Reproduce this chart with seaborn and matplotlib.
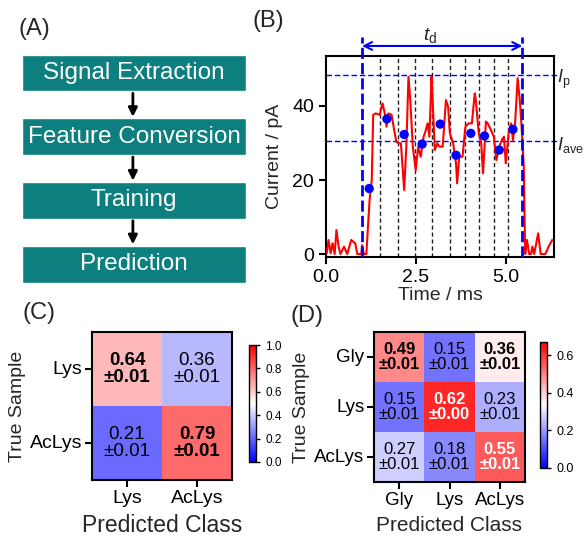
import matplotlib
matplotlib.use('Agg')
import matplotlib.pyplot as plt
import numpy as np
import pandas as pd
import seaborn as sns

# (A) workflow
steps = ['Signal Extraction', 'Feature Conversion', 'Training', 'Prediction']

# (B) current trace
time_ms = [0.02, 0.07, 0.13, 0.18, 0.24, 0.29, 0.35, 0.40, 0.50, 0.59,
           0.70, 0.81, 0.87, 0.98, 1.00, 1.05, 1.12, 1.21, 1.27, 1.31,
           1.38, 1.49, 1.57, 1.64, 1.68, 1.73, 1.82, 1.95, 2.01, 2.08,
           2.17, 2.23, 2.29, 2.34, 2.41, 2.49, 2.56, 2.63, 2.71, 2.76,
           2.82, 2.87, 2.93, 2.96, 3.02, 3.09, 3.15, 3.24, 3.33, 3.39,
           3.44, 3.53, 3.61, 3.64, 3.70, 3.79, 3.87, 3.96, 4.05, 4.13,
           4.16, 4.24, 4.31, 4.36, 4.44, 4.49, 4.58, 4.66, 4.73, 4.81,
           4.88, 4.94, 4.99, 5.08, 5.14, 5.19, 5.25, 5.32, 5.38, 5.43,
           5.49, 5.53, 5.58, 5.64, 5.69, 5.73, 5.78, 5.89, 5.96, 6.09,
           6.18, 6.28]
current_pa = [0.2, 3.8, 0.2, 2.9, 0, 6.5, 2.0, 0, 2.0, 0,
              3.8, 2.9, 0, 0, 2.4, 0, 0, 14.6, 20, 37.6,
              38, 37.6, 40.7, 37.6, 34.4, 38, 37.6, 30.4, 29.9, 29.9,
              17.3, 29, 47.9, 41.6, 29, 22.7, 29, 26.3, 31.7, 33.1,
              35.3, 31.7, 47.9, 41.6, 28.1, 29.9, 29, 29, 41.6, 39.8,
              32.6, 29.9, 24.5, 19.1, 26.3, 26.3, 34.4, 35.3, 35.3, 43.4,
              41.6, 32.6, 29.9, 21.8, 35.8, 35.3, 33.5, 31.7, 25.4, 29,
              30.8, 31.7, 24.5, 33.5, 35.3, 30.8, 35.3, 47.5, 41.6, 34.4,
              23.6, 0, 3.8, 0, 0, 2.0, 0, 5.6, 0, 0,
              2.0, 3.8]
seg_mean_t = [1.20, 1.69, 2.17, 2.67, 3.17, 3.61, 4.02, 4.40, 4.81, 5.19]
seg_mean_i = [17.7, 36.5, 32.3, 29.7, 35.1, 26.7, 32.6, 31.9, 28.1, 33.7]
seg_bounds = [1.5, 2.0, 2.47, 2.95, 3.44, 3.85, 4.24, 4.66, 5.05]
event_bounds = [1.0, 5.45]
i_peak = 48.3
i_ave = 30.5

# (C) two classes
classes_c = ['Lys', 'AcLys']
acc_c = [[0.64, 0.36],
         [0.21, 0.79]]
err_c = [[0.01, 0.01],
         [0.01, 0.01]]

# (D) three classes
classes_d = ['Gly', 'Lys', 'AcLys']
acc_d = [[0.49, 0.15, 0.36],
         [0.15, 0.62, 0.23],
         [0.27, 0.18, 0.55]]
err_d = [[0.01, 0.01, 0.01],
         [0.01, 0.00, 0.01],
         [0.01, 0.01, 0.01]]

sns.set_style('ticks')
plt.rcParams['font.family'] = ['Liberation Sans', 'DejaVu Sans']
plt.rcParams['mathtext.fontset'] = 'custom'
plt.rcParams['mathtext.rm'] = 'Liberation Sans'
plt.rcParams['mathtext.it'] = 'Liberation Sans:italic'
plt.rcParams['axes.linewidth'] = 1.5
plt.rcParams['axes.edgecolor'] = 'black'
plt.rcParams['xtick.color'] = 'black'
plt.rcParams['ytick.color'] = 'black'

W, H = 584, 540
fig = plt.figure(figsize=(W / 100, H / 100), dpi=100)


def px_axes(left, top, right, bottom):
    return fig.add_axes([left / W, 1 - bottom / H, (right - left) / W,
                         (bottom - top) / H])


teal = '#0d7f7e'

# ---------------- (A)
ax_a = px_axes(22, 54.5, 246, 282.5)
n = len(steps)
ax_a.barh(range(n), [1] * n, height=0.58, color=teal)
ax_a.set_xlim(0, 1)
ax_a.set_ylim(n - 1 + 0.29, -0.29)
ax_a.axis('off')
for i, s in enumerate(steps):
    ax_a.text(0.5, i, s, color='white', ha='center', va='center',
              fontsize=17.5)
for i in range(n - 1):
    ax_a.annotate('', xy=(0.495, i + 1 - 0.31), xytext=(0.495, i + 0.32),
                  arrowprops=dict(arrowstyle='-|>', color='black', lw=2,
                                  mutation_scale=13, shrinkA=0, shrinkB=0))

# ---------------- (B)
ax_b = px_axes(326, 56, 554, 257)
trace = pd.DataFrame({'t': time_ms, 'i': current_pa})
sns.lineplot(data=trace, x='t', y='i', color='red', lw=1.5, sort=False,
             estimator=None, ax=ax_b, zorder=3)
sns.scatterplot(x=seg_mean_t, y=seg_mean_i, color='blue', s=45,
                edgecolor='none', ax=ax_b, zorder=4)
for t in seg_bounds:
    ax_b.axvline(t, color='#222222', ls=(0, (3, 2)), lw=1, zorder=1)
for t in event_bounds:
    ax_b.axvline(t, ymin=0, ymax=1.095, color='blue', ls=(0, (4, 1.5)),
                 lw=2, clip_on=False, zorder=5)
for lvl in (i_peak, i_ave):
    ax_b.axhline(lvl, xmax=1.015, color='blue', ls=(0, (4, 2)), lw=1,
                 clip_on=False, zorder=2)
ax_b.annotate('', xy=(event_bounds[0], 1.05), xytext=(event_bounds[1], 1.05),
              xycoords=('data', 'axes fraction'),
              textcoords=('data', 'axes fraction'),
              arrowprops=dict(arrowstyle='<->', color='blue', lw=1.5,
                              mutation_scale=14, shrinkA=0, shrinkB=0))
ax_b.text(2.9, 1.1, r'$\mathit{t}_\mathrm{d}$', fontsize=14, ha='center',
          va='center', transform=ax_b.get_xaxis_transform())
ax_b.text(1.015, i_peak - 1, r'$\mathit{I}_\mathrm{p}$', fontsize=13,
          ha='left', va='center', transform=ax_b.get_yaxis_transform())
ax_b.text(1.015, i_ave - 1, r'$\mathit{I}_\mathrm{ave}$', fontsize=13,
          ha='left', va='center', transform=ax_b.get_yaxis_transform())
ax_b.set_xlim(0, 6.33)
ax_b.set_ylim(-0.8, 53.5)
ax_b.set_xticks([0, 2.5, 5.0])
ax_b.set_xticklabels(['0.0', '2.5', '5.0'])
ax_b.set_yticks([0, 20, 40])
ax_b.tick_params(labelsize=14, length=5, width=1.5, direction='out')
ax_b.set_xlabel('Time / ms', fontsize=14, labelpad=1)
ax_b.set_ylabel('Current / pA', fontsize=14, labelpad=7)


# ---------------- (C) and (D)
def conf_map(ax, cax, acc, err, classes, vmax, ticks, size, bold, white,
             tick_size, xlab_size, cb_size):
    labels = [[f'{a:.2f}\n±{e:.2f}' for a, e in zip(ra, re)]
              for ra, re in zip(acc, err)]
    df = pd.DataFrame(acc, index=classes, columns=classes)
    sns.heatmap(df, cmap='bwr', vmin=0, vmax=vmax, annot=np.array(labels),
                fmt='', annot_kws={'size': size, 'linespacing': 0.95},
                cbar_ax=cax, cbar_kws={'ticks': ticks}, ax=ax)
    k = len(classes)
    for idx, txt in enumerate(ax.texts):
        r, c = divmod(idx, k)
        txt.set_color('white' if (r, c) in white else 'black')
        if (r, c) in bold:
            txt.set_fontweight('bold')
    for sp in ax.spines.values():
        sp.set_visible(True)
        sp.set_linewidth(1.5)
        sp.set_color('black')
    ax.tick_params(labelsize=tick_size, length=5, width=1.5, pad=2)
    ax.set_yticklabels(classes, rotation=0)
    ax.set_xticklabels(classes, rotation=0)
    ax.set_xlabel('Predicted Class', fontsize=xlab_size, labelpad=5)
    ax.set_ylabel('True Sample', fontsize=14, labelpad=3)
    cax.tick_params(labelsize=cb_size, length=3, width=1)
    cbar = ax.collections[0].colorbar
    cbar.outline.set_edgecolor('black')
    cbar.outline.set_linewidth(1)


ax_c = px_axes(92, 332, 232, 480)
cax_c = px_axes(249, 345, 256, 462)
conf_map(ax_c, cax_c, acc_c, err_c, classes_c, 1.0,
         [0, 0.2, 0.4, 0.6, 0.8, 1.0], 13.5, {(0, 0), (1, 1)}, set(),
         14, 16.5, 8.5)

ax_d = px_axes(374, 332, 525, 482)
cax_d = px_axes(540, 342, 547, 468)
conf_map(ax_d, cax_d, acc_d, err_d, classes_d, 0.67,
         [0, 0.2, 0.4, 0.6], 12, {(0, 0), (0, 2), (1, 1), (2, 2)},
         {(1, 1), (2, 2)}, 13.5, 15, 9)

for lab, x, y in [('(A)', 18, 18), ('(B)', 253, 10), ('(C)', 22, 302),
                  ('(D)', 290, 305)]:
    fig.text(x / W, 1 - y / H, lab, fontsize=17, ha='left', va='top')

fig.savefig('out.png', dpi=100)
